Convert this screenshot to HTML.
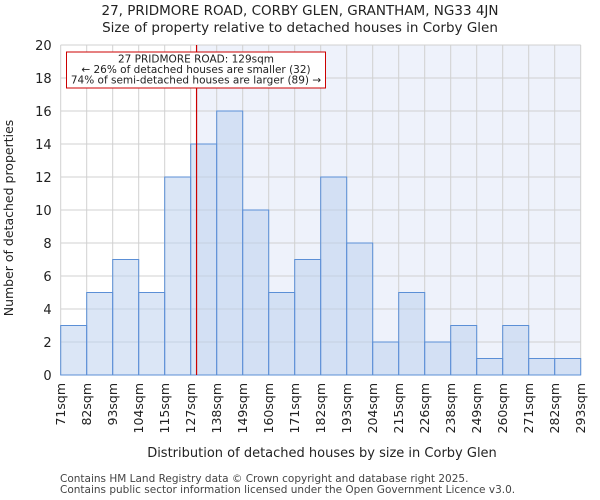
<!DOCTYPE html>
<html><head><meta charset="utf-8"><style>
body{margin:0;background:#fff;}
svg{display:block;font-family:"DejaVu Sans","Liberation Sans",sans-serif;}
</style></head><body>
<svg id="chart" width="600" height="500" xmlns="http://www.w3.org/2000/svg">
<text x="300" y="15" text-anchor="middle" font-size="13.5" fill="#222">27, PRIDMORE ROAD, CORBY GLEN, GRANTHAM, NG33 4JN</text>
<text x="300" y="32" text-anchor="middle" font-size="13.5" fill="#222">Size of property relative to detached houses in Corby Glen</text>
<g id="plot"></g>
<text x="322" y="457" text-anchor="middle" font-size="13" fill="#222">Distribution of detached houses by size in Corby Glen</text>
<text x="13" y="218" text-anchor="middle" font-size="12.5" fill="#222" transform="rotate(-90 13 218)">Number of detached properties</text>
<text x="60" y="482" font-size="10.5" fill="#444">Contains HM Land Registry data © Crown copyright and database right 2025.</text>
<text x="60" y="493" font-size="10.5" fill="#444">Contains public sector information licensed under the Open Government Licence v3.0.</text>
</svg>
<script>
const tickLabels=["71sqm","82sqm","93sqm","104sqm","115sqm","127sqm","138sqm","149sqm","160sqm","171sqm","182sqm","193sqm","204sqm","215sqm","226sqm","238sqm","249sqm","260sqm","271sqm","282sqm","293sqm"];
const counts=[3,5,7,5,12,14,16,10,5,7,12,8,2,5,2,3,1,3,1,1];
const yTicks=[0,2,4,6,8,10,12,14,16,18,20];
const subjectSize=129;
const binStart=71, binWidth=11.1;
const X0=60.7,X1=580.7,Y0=375,Y1=45;
const nb=counts.length;
const xb=i=>X0+(X1-X0)*i/nb;
const xv=v=>X0+(v-binStart)/(binWidth*nb)*(X1-X0);
const y=v=>Y0-(v/20)*(Y0-Y1);
const NS="http://www.w3.org/2000/svg";
const g=document.getElementById('plot');
function mk(t,a){const e=document.createElementNS(NS,t);for(const k in a)e.setAttribute(k,a[k]);g.appendChild(e);return e;}
const lx=xv(subjectSize);
let e=mk('rect',{x:lx,y:Y1,width:X1-lx,height:Y0-Y1,fill:'#eef2fb'});


for(let i=0;i<=nb;i++){e=mk('line',{x1:xb(i),x2:xb(i),y1:Y1,y2:Y0,stroke:'#d0d0d0','stroke-width':1});

}
yTicks.forEach(t=>{e=mk('line',{x1:X0,x2:X1,y1:y(t),y2:y(t),stroke:'#d0d0d0','stroke-width':1});


e=mk('text',{x:X0-9,y:y(t)+5,'text-anchor':'end','font-size':13,fill:'#222'});e.textContent=t;

});
counts.forEach((c,i)=>{e=mk('rect',{x:xb(i),y:y(c),width:xb(i+1)-xb(i),height:Y0-y(c),fill:'rgba(190,210,238,0.55)',stroke:'#5b8fd6','stroke-width':1});

});
tickLabels.forEach((l,i)=>{const x=xb(i);e=mk('text',{x:0,y:0,'text-anchor':'end','font-size':12.5,fill:'#222',transform:`translate(${x+4.5},383) rotate(-90)`});e.textContent=l;

});
e=mk('line',{x1:lx,x2:lx,y1:Y1,y2:Y0,stroke:'#cc0000','stroke-width':1.2});


e=mk('rect',{x:66.5,y:52,width:259,height:36,fill:'#fff',stroke:'#cc0000','stroke-width':1});


["27 PRIDMORE ROAD: 129sqm","← 26% of detached houses are smaller (32)","74% of semi-detached houses are larger (89) →"].forEach((t,i)=>{e=mk('text',{x:196,y:62.5+i*10.5,'text-anchor':'middle','font-size':10.5,fill:'#222'});e.textContent=t;

});
</script>
</body></html>
